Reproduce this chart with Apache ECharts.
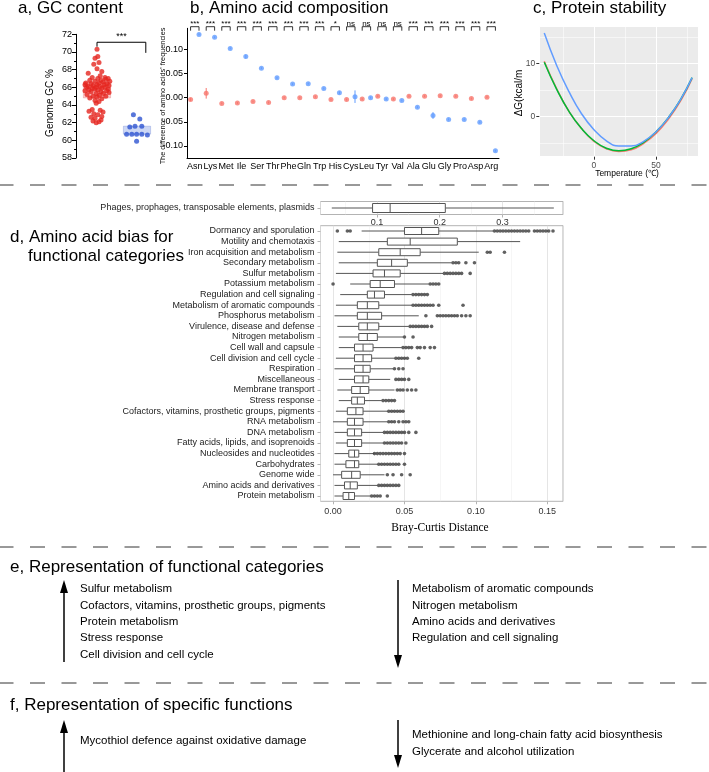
<!DOCTYPE html>
<html><head><meta charset="utf-8">
<script src="https://cdn.jsdelivr.net/npm/echarts@6/dist/echarts.min.js"></script>
<style>html,body{margin:0;padding:0;background:#fff}#c{width:709px;height:772px}</style>
</head><body><div id="c"></div>
<script>
// ---------- Panel a: GC content ----------
const gcRed = [70.3,69.5,69.3,68.8,68.6,68.1,67.8,67.6,67.3,67.1,67.1,67.0,67.0,66.9,66.8,66.8,66.7,66.7,66.6,66.5,66.5,66.4,66.4,66.3,66.3,66.3,66.2,66.2,66.1,66.1,66.0,66.0,66.0,65.9,65.9,65.8,65.8,65.7,65.7,65.6,65.6,65.5,65.5,65.4,65.3,65.3,65.2,65.1,65.0,65.0,64.9,64.8,64.7,64.5,64.4,64.2,63.5,63.4,63.3,63.2,63.0,62.9,62.7,62.6,62.5,62.3,62.2,62.1,62.0];
const gcRedJitter = [0.0,0.02,-0.05,0.05,-0.08,0.0,0.12,-0.22,0.08,-0.12,0.2,0.02,0.28,0.22,-0.18,0.1,0.32,-0.05,0.15,-0.28,0.05,-0.15,0.25,-0.3,0.0,0.18,-0.1,0.3,-0.22,0.08,-0.02,0.2,-0.26,0.12,-0.12,0.28,-0.06,0.02,-0.2,0.24,-0.3,0.1,-0.15,0.3,-0.02,0.16,-0.25,0.06,-0.1,0.22,0.0,-0.18,0.12,-0.05,0.05,-0.02,-0.12,0.08,-0.2,0.15,-0.08,0.02,0.12,-0.15,-0.05,0.1,-0.1,0.05,-0.02];
const gcBlue = [62.9,62.4,61.6,61.5,61.6,60.7,60.7,60.7,60.7,60.6,59.9];
const gcBlueJitter = [-0.09,0.07,-0.05,-0.18,0.12,-0.26,-0.13,-0.01,0.12,0.26,-0.01];
const gcRedBox = [64.8, 66.6];
const gcBlueBox = [60.7, 61.6];
const gcSig = {label:'***', x1:1, x2:2.22, top:71.1, leftEnd:70.6, rightEnd:69.9};

// ---------- Panel b: amino acid composition ----------
const aaNames = ['Asn','Lys','Met','Ile','Ser','Thr','Phe','Gln','Trp','His','Cys','Leu','Tyr','Val','Ala','Glu','Gly','Pro','Asp','Arg'];
const aaRed  = [-0.004,0.009,-0.012,-0.011,-0.008,-0.010,0.000,0.000,0.002,-0.004,-0.004,-0.003,0.003,-0.003,0.003,0.003,0.004,0.003,-0.002,0.001];
const aaBlue = [0.131,0.125,0.102,0.085,0.061,0.041,0.028,0.029,0.019,0.010,0.002,0.000,-0.003,-0.006,-0.020,-0.037,-0.045,-0.045,-0.051,-0.110];
const aaRedErr  = [0.003,0.011,0.002,0.002,0.002,0.002,0.002,0.002,0.002,0.002,0.002,0.002,0.002,0.002,0.002,0.002,0.002,0.002,0.002,0.002];
const aaBlueErr = [0.002,0.002,0.002,0.004,0.002,0.002,0.002,0.002,0.002,0.003,0.013,0.002,0.002,0.002,0.002,0.007,0.002,0.002,0.002,0.002];
const aaSig = ['***','***','***','***','***','***','***','***','***','*','ns','ns','ns','ns','***','***','***','***','***','***'];

// ---------- Panel c: protein stability ----------
const tempC   = [-40,-30,-20,-10,0,10,20,30,40,50,60,70,79];
const dgRed   = [10.4,5.2,0.9,-2.3,-4.7,-6.1,-6.6,-6.3,-5.1,-3.2,-0.5,3.0,7.1];
const dgGreen = [10.2,5.1,0.9,-2.3,-4.6,-6.0,-6.5,-6.1,-4.9,-2.9,-0.2,3.3,7.3];
const dgBlue  = [15.7,9.6,4.6,0.5,-2.5,-4.6,-5.6,-5.6,-4.7,-2.9,-0.2,3.3,7.3];

// ---------- Panel d: Bray-Curtis distances ----------
const phageCat = ['Phages, prophages, transposable elements, plasmids'];
const phageBox = [0.028,0.093,0.121,0.209,0.382];
const funcCats = ['Dormancy and sporulation','Motility and chemotaxis','Iron acquisition and metabolism','Secondary metabolism','Sulfur metabolism','Potassium metabolism','Regulation and cell signaling','Metabolism of aromatic compounds','Phosphorus metabolism','Virulence, disease and defense','Nitrogen metabolism','Cell wall and capsule','Cell division and cell cycle','Respiration','Miscellaneous','Membrane transport','Stress response','Cofactors, vitamins, prosthetic groups, pigments','RNA metabolism','DNA metabolism','Fatty acids, lipids, and isoprenoids','Nucleosides and nucleotides','Carbohydrates','Genome wide','Amino acids and derivatives','Protein metabolism'];
// [whisker low, Q1, median, Q3, whisker high]
const funcBox = [
 [0.020,0.050,0.062,0.074,0.112],
 [0.004,0.038,0.054,0.087,0.131],
 [0.003,0.032,0.047,0.061,0.102],
 [0.004,0.031,0.041,0.052,0.083],
 [0.002,0.028,0.036,0.047,0.077],
 [0.012,0.026,0.033,0.043,0.067],
 [0.005,0.024,0.029,0.036,0.055],
 [0.002,0.017,0.024,0.032,0.055],
 [0.001,0.017,0.024,0.034,0.060],
 [0.003,0.018,0.024,0.032,0.053],
 [0.004,0.018,0.024,0.031,0.049],
 [0.004,0.015,0.021,0.028,0.048],
 [0.002,0.015,0.021,0.027,0.043],
 [0.001,0.015,0.021,0.026,0.042],
 [0.004,0.015,0.021,0.025,0.040],
 [0.003,0.013,0.019,0.025,0.043],
 [0.004,0.013,0.017,0.022,0.034],
 [0.002,0.010,0.016,0.021,0.038],
 [0.000,0.010,0.015,0.021,0.038],
 [0.001,0.010,0.015,0.020,0.035],
 [0.002,0.010,0.015,0.020,0.035],
 [0.001,0.011,0.015,0.018,0.029],
 [0.001,0.009,0.015,0.018,0.031],
 [0.000,0.006,0.013,0.019,0.036],
 [0.001,0.008,0.012,0.017,0.031],
 [0.001,0.007,0.011,0.015,0.026]
];
const funcOutliers = [
 [0.003,0.010,0.012,0.113,0.115,0.117,0.119,0.121,0.123,0.125,0.127,0.129,0.131,0.133,0.135,0.137,0.141,0.143,0.145,0.147,0.149,0.151,0.154],
 [],
 [0.108,0.110,0.120],
 [0.084,0.086,0.088,0.093,0.099],
 [0.078,0.080,0.082,0.084,0.086,0.088,0.090,0.096],
 [0.000,0.068,0.070,0.072,0.074],
 [0.056,0.058,0.060,0.062,0.064,0.066],
 [0.056,0.058,0.060,0.062,0.064,0.066,0.068,0.070,0.074,0.091],
 [0.065,0.073,0.075,0.077,0.079,0.081,0.083,0.085,0.087,0.090,0.093,0.096],
 [0.054,0.056,0.058,0.060,0.062,0.064,0.066,0.069],
 [0.050,0.056],
 [0.049,0.051,0.053,0.055,0.059,0.061,0.064,0.068,0.071],
 [0.044,0.046,0.048,0.050,0.052,0.060],
 [0.043,0.046,0.049],
 [0.044,0.046,0.048,0.050,0.053],
 [0.045,0.047,0.049,0.052,0.055,0.058],
 [0.035,0.037,0.039,0.041,0.043],
 [0.039,0.041,0.043,0.045,0.047,0.049],
 [0.039,0.041,0.043,0.046,0.049,0.051,0.053],
 [0.036,0.038,0.040,0.042,0.044,0.046,0.048,0.050,0.053,0.058],
 [0.036,0.038,0.040,0.042,0.044,0.046,0.048,0.051],
 [0.029,0.031,0.033,0.035,0.037,0.039,0.041,0.043,0.045,0.047,0.050],
 [0.032,0.034,0.036,0.038,0.040,0.042,0.044,0.046,0.050],
 [0.038,0.042,0.048,0.054],
 [0.032,0.034,0.036,0.038,0.040,0.042,0.044,0.046],
 [0.027,0.029,0.031,0.033,0.038]
];

// ---------- Panels e, f: text lists ----------
const eUp = ['Sulfur metabolism','Cofactors, vitamins, prosthetic groups, pigments','Protein metabolism','Stress response','Cell division and cell cycle'];
const eDown = ['Metabolism of aromatic compounds','Nitrogen metabolism','Amino acids and derivatives','Regulation and cell signaling'];
const fUp = ['Mycothiol defence against oxidative damage'];
const fDown = ['Methionine and long-chain fatty acid biosynthesis','Glycerate and alcohol utilization'];

// ================= rendering =================
const SANS = '"Liberation Sans", Arial, Helvetica, sans-serif';
const TF = '17px ' + SANS;
const chart = echarts.init(document.getElementById('c'));

function txt(text, x, y, o) {
  o = o || {};
  return {type:'text', x:x, y:y, rotation:o.rot||0, z:100,
    style:{text:text, fill:o.fill||'#000', font:o.font||TF, textAlign:o.align||'left', textVerticalAlign:o.va||'middle'}};
}
function dashed(y) {
  return {type:'line', z:100, shape:{x1:0,y1:y,x2:709,y2:y}, style:{stroke:'#333', lineWidth:1, lineDash:[15,16.5], lineDashOffset:1.5}};
}
function arrow(x, yFrom, yTo) {
  const dir = yTo < yFrom ? -1 : 1;
  return {type:'group', z:100, children:[
    {type:'line', shape:{x1:x,y1:yFrom,x2:x,y2:yTo - dir*10}, style:{stroke:'#000', lineWidth:1.5}},
    {type:'polygon', shape:{points:[[x,yTo],[x-4,yTo-dir*13],[x+4,yTo-dir*13]]}, style:{fill:'#000'}}
  ]};
}

function boxRender(h, color) {
  return function(params, api) {
    const c = api.value(0);
    const lo = api.coord([api.value(1), c]), q1 = api.coord([api.value(2), c]),
          md = api.coord([api.value(3), c]), q3 = api.coord([api.value(4), c]),
          hi = api.coord([api.value(5), c]);
    const y = lo[1];
    const st = {stroke:color, lineWidth:1, fill:null};
    return {type:'group', children:[
      {type:'line', shape:{x1:lo[0],y1:y,x2:q1[0],y2:y}, style:st},
      {type:'line', shape:{x1:q3[0],y1:y,x2:hi[0],y2:y}, style:st},
      {type:'rect', shape:{x:q1[0], y:y-h/2, width:q3[0]-q1[0], height:h}, style:{stroke:color, lineWidth:1, fill:'#fff'}},
      {type:'line', shape:{x1:md[0],y1:y-h/2,x2:md[0],y2:y+h/2}, style:st}
    ]};
  };
}

const lightAxisCommon = {
  axisLine:{show:false, onZero:false},
  axisTick:{show:true, length:3, lineStyle:{color:'#b3b3b3'}},
  splitLine:{show:true, lineStyle:{color:'#dedede', width:0.8}},
  minorTick:{show:false, splitNumber:2},
  minorSplitLine:{show:true, lineStyle:{color:'#ececec', width:0.5}}
};

const graphics = [
  txt('a, GC content', 18, 8),
  txt('b, Amino acid composition', 190, 8),
  txt('c, Protein stability', 533, 8),
  txt('Genome GC %', 50, 103, {rot:Math.PI/2, align:'center', font:'10px '+SANS}),
  txt("The difference of amino acids' frequencies", 162.5, 96, {rot:Math.PI/2, align:'center', font:'7.3px '+SANS}),
  txt('ΔG(kcal/m', 519, 93, {rot:Math.PI/2, align:'center', font:'10px '+SANS}),
  txt('Temperature (℃)', 627, 174, {align:'center', font:'8.5px '+SANS}),
  dashed(185),
  txt('d, Amino acid bias for', 10, 237),
  txt('functional categories', 28, 256),
  txt('Bray-Curtis Distance', 440, 528, {align:'center', font:'11.5px "Liberation Serif", "Times New Roman", serif'}),
  dashed(547),
  txt('e, Representation of functional categories', 10, 567),
  arrow(64, 662, 580),
  arrow(398, 580, 668),
  dashed(683),
  txt('f, Representation of specific functions', 10, 705),
  arrow(64, 772, 720),
  arrow(398, 720, 768)
];
const LF = '11.5px ' + SANS;
eUp.forEach((t,i)=>graphics.push(txt(t, 80, 589 + i*16.4, {font:LF})));
eDown.forEach((t,i)=>graphics.push(txt(t, 412, 589 + i*16.4, {font:LF})));
fUp.forEach((t,i)=>graphics.push(txt(t, 80, 741 + i*16.4, {font:LF})));
fDown.forEach((t,i)=>graphics.push(txt(t, 412, 735 + i*16.4, {font:LF})));

const option = {
  animation:false,
  backgroundColor:'#fff',
  textStyle:{fontFamily:SANS},
  grid:[
    {left:76, top:34.3, width:84, height:123.7},
    {left:187, top:28.3, width:312, height:130},
    {left:539.3, top:26.7, width:159, height:130, show:true, backgroundColor:'#EBEBEB', borderWidth:0},
    {left:320.5, top:201.5, width:242.5, height:13, show:true, borderColor:'#b3b3b3', borderWidth:1, backgroundColor:'#fff'},
    {left:320.5, top:225.7, width:242.5, height:275.6, show:true, borderColor:'#b3b3b3', borderWidth:1, backgroundColor:'#fff'}
  ],
  xAxis:[
    {type:'value', gridIndex:0, min:0.475, max:2.575, show:false, axisLine:{onZero:false}},
    {type:'category', gridIndex:1, data:aaNames, boundaryGap:true,
      axisLine:{onZero:false, lineStyle:{color:'#000', width:1}}, axisTick:{alignWithLabel:true, length:3, lineStyle:{color:'#000'}},
      axisLabel:{interval:0, fontSize:9, color:'#000', margin:4}},
    {type:'value', gridIndex:1, min:-0.5, max:19.5, show:false, axisLine:{onZero:false}},
    {type:'value', gridIndex:2, min:-44, max:84, splitNumber:2,
      axisLine:{show:false, onZero:false}, axisTick:{length:3, lineStyle:{color:'#333'}},
      axisLabel:{fontSize:8.5, color:'#4d4d4d', margin:4, showMinLabel:false, showMaxLabel:false},
      splitLine:{show:true, lineStyle:{color:'#fff', width:1.1}},
      minorTick:{show:false, splitNumber:2}, minorSplitLine:{show:true, lineStyle:{color:'#fff', width:0.55}}},
    Object.assign({type:'value', gridIndex:3, min:0.010, max:0.3966, splitNumber:4,
      axisLabel:{fontSize:9, color:'#333', margin:4, showMinLabel:false, showMaxLabel:false, formatter:v=>v.toFixed(1)}}, lightAxisCommon),
    Object.assign({type:'value', gridIndex:4, min:-0.0088, max:0.161, splitNumber:3,
      axisLabel:{fontSize:9, color:'#333', margin:6, showMinLabel:false, showMaxLabel:false, formatter:v=>v.toFixed(2)}}, lightAxisCommon)
  ],
  yAxis:[
    {type:'value', gridIndex:0, min:58, max:72, interval:2,
      axisLine:{show:true, onZero:false, lineStyle:{color:'#000'}}, axisTick:{show:true, length:4, lineStyle:{color:'#000'}},
      minorTick:{show:true, splitNumber:2, length:2, lineStyle:{color:'#000'}},
      axisLabel:{fontSize:9, color:'#000', margin:4}, splitLine:{show:false}},
    {type:'value', gridIndex:1, min:-0.1256, max:0.1436, splitNumber:5,
      axisLine:{show:true, onZero:false, lineStyle:{color:'#000'}}, axisTick:{show:true, length:3, lineStyle:{color:'#000'}},
      axisLabel:{fontSize:9, color:'#000', margin:4, showMinLabel:false, showMaxLabel:false, formatter:v=>v.toFixed(2)},
      splitLine:{show:false}},
    {type:'value', gridIndex:2, min:-7.6, max:16.9, splitNumber:2,
      axisLine:{show:false, onZero:false}, axisTick:{length:3, lineStyle:{color:'#333'}},
      axisLabel:{fontSize:8.5, color:'#4d4d4d', margin:4, showMinLabel:false, showMaxLabel:false},
      splitLine:{show:true, lineStyle:{color:'#fff', width:1.1}},
      minorTick:{show:false, splitNumber:2}, minorSplitLine:{show:true, lineStyle:{color:'#fff', width:0.55}}},
    {type:'category', gridIndex:3, data:phageCat, boundaryGap:true,
      axisLine:{show:false, onZero:false}, axisTick:{show:true, alignWithLabel:true, length:3, lineStyle:{color:'#b3b3b3'}},
      axisLabel:{fontSize:9, color:'#222', margin:6}, splitLine:{show:false}},
    {type:'category', gridIndex:4, data:funcCats, inverse:true, boundaryGap:true,
      axisLine:{show:false, onZero:false}, axisTick:{show:true, alignWithLabel:true, length:3, lineStyle:{color:'#b3b3b3'}},
      axisLabel:{fontSize:9, color:'#222', margin:6, interval:0}, splitLine:{show:false}}
  ],
  graphic:graphics,
  series:[
    // ---- panel a
    {type:'custom', xAxisIndex:0, yAxisIndex:0, z:1,
      data:[[1, gcRedBox[0], gcRedBox[1], 0], [2, gcBlueBox[0], gcBlueBox[1], 1]],
      encode:{x:0, y:[1,2]},
      renderItem:function(params, api){
        const x = api.value(0);
        const p1 = api.coord([x-0.34, api.value(2)]), p2 = api.coord([x+0.34, api.value(1)]);
        const fills = ['rgba(240,110,110,0.35)','rgba(110,140,225,0.35)'];
        const strokes = ['rgba(220,70,70,0.5)','rgba(70,100,200,0.5)'];
        return {type:'rect', shape:{x:p1[0], y:p1[1], width:p2[0]-p1[0], height:p2[1]-p1[1]},
          style:{fill:fills[api.value(3)], stroke:strokes[api.value(3)], lineWidth:0.5}};
      }},
    {type:'scatter', xAxisIndex:0, yAxisIndex:0, z:3, symbolSize:5, itemStyle:{color:'#E5261F'},
      data:gcRed.map((v,i)=>[1 + gcRedJitter[i % gcRedJitter.length], v])},
    {type:'scatter', xAxisIndex:0, yAxisIndex:0, z:3, symbolSize:5, itemStyle:{color:'#2E54D1'},
      data:gcBlue.map((v,i)=>[2 + gcBlueJitter[i % gcBlueJitter.length], v])},
    {type:'custom', xAxisIndex:0, yAxisIndex:0, z:4, clip:false, data:[[gcSig.x1, gcSig.top]], encode:{x:0,y:1},
      renderItem:function(params, api){
        const a = api.coord([gcSig.x1, gcSig.leftEnd]), b = api.coord([gcSig.x1, gcSig.top]),
              c = api.coord([gcSig.x2, gcSig.top]), d = api.coord([gcSig.x2, gcSig.rightEnd]);
        return {type:'group', children:[
          {type:'polyline', shape:{points:[a,b,c,d]}, style:{stroke:'#000', lineWidth:1, fill:null}},
          {type:'text', style:{text:gcSig.label, x:(b[0]+c[0])/2, y:b[1]-1, fill:'#000', font:'9px '+SANS, textAlign:'center', textVerticalAlign:'bottom'}}
        ]};
      }},
    // ---- panel b
    {type:'custom', xAxisIndex:2, yAxisIndex:1, z:2,
      data:aaRed.map((v,i)=>[i-0.27, v-aaRedErr[i], v+aaRedErr[i]]).concat(aaBlue.map((v,i)=>[i+0.27, v-aaBlueErr[i], v+aaBlueErr[i]])),
      encode:{x:0, y:[1,2]},
      renderItem:function(params, api){
        const p1 = api.coord([api.value(0), api.value(1)]), p2 = api.coord([api.value(0), api.value(2)]);
        const col = params.dataIndex < aaRed.length ? '#F8766D' : '#619CFF';
        return {type:'line', shape:{x1:p1[0], y1:p1[1], x2:p2[0], y2:p2[1]}, style:{stroke:col, lineWidth:1}};
      }},
    {type:'scatter', xAxisIndex:2, yAxisIndex:1, z:3, symbolSize:5, itemStyle:{color:'#F8766D'},
      data:aaRed.map((v,i)=>[i-0.27, v])},
    {type:'scatter', xAxisIndex:2, yAxisIndex:1, z:3, symbolSize:5, itemStyle:{color:'#619CFF'},
      data:aaBlue.map((v,i)=>[i+0.27, v])},
    {type:'custom', xAxisIndex:2, yAxisIndex:1, z:4, clip:false,
      data:aaSig.map((s,i)=>[i, 0]), encode:{x:0, y:1},
      renderItem:function(params, api){
        const i = params.dataIndex;
        const xl = api.coord([i-0.27, 0])[0], xr = api.coord([i+0.27, 0])[0];
        const top = params.coordSys.y - 1.6, bot = params.coordSys.y + 2.4;
        return {type:'group', children:[
          {type:'polyline', shape:{points:[[xl,bot],[xl,top],[xr,top],[xr,bot]]}, style:{stroke:'#000', lineWidth:0.8, fill:null}},
          {type:'text', style:{text:aaSig[i], x:(xl+xr)/2, y:top+1.5, fill:'#000', font:'8px '+SANS, textAlign:'center', textVerticalAlign:'bottom'}}
        ]};
      }},
    // ---- panel c
    {type:'line', xAxisIndex:3, yAxisIndex:2, smooth:true, showSymbol:false, z:3, lineStyle:{color:'#F8766D', width:1.5},
      data:tempC.map((t,i)=>[t, dgRed[i]])},
    {type:'line', xAxisIndex:3, yAxisIndex:2, smooth:true, showSymbol:false, z:4, lineStyle:{color:'#00BA38', width:1.5},
      data:tempC.map((t,i)=>[t, dgGreen[i]])},
    {type:'line', xAxisIndex:3, yAxisIndex:2, smooth:true, showSymbol:false, z:5, lineStyle:{color:'#619CFF', width:1.5},
      data:tempC.map((t,i)=>[t, dgBlue[i]])},
    // ---- panel d top
    {type:'custom', xAxisIndex:4, yAxisIndex:3, z:3, data:[[0].concat(phageBox)],
      encode:{x:[1,2,3,4,5], y:0}, renderItem:boxRender(9, '#555')},
    // ---- panel d main
    {type:'custom', xAxisIndex:5, yAxisIndex:4, z:3, data:funcBox.map((b,i)=>[i].concat(b)),
      encode:{x:[1,2,3,4,5], y:0}, renderItem:boxRender(7, '#555')},
    {type:'scatter', xAxisIndex:5, yAxisIndex:4, z:4, symbolSize:3.6, itemStyle:{color:'#3a3a3a'},
      data:funcOutliers.flatMap((arr,i)=>arr.map(v=>[v, i]))}
  ]
};
chart.setOption(option);
</script></body></html>
